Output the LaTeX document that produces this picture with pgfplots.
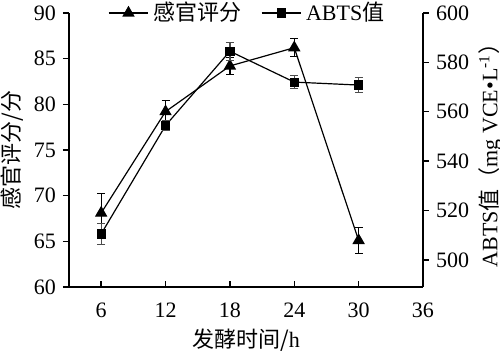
\documentclass[border=0pt]{standalone}
\usepackage{pgfplots}
\pgfplotsset{compat=1.18}
\usepackage{fontspec}
\setmainfont{Liberation Serif}
\newfontfamily\cjk{Noto Sans CJK SC}

\begin{document}
\begin{tikzpicture}
\pgfplotsset{
  every axis/.append style={
    scale only axis, width=177pt, height=137pt,
    xmin=3, xmax=36,
    font=\fontsize{11}{13}\selectfont,
    /pgf/number format/assume math mode=true,
    tick align=outside, major tick length=3pt,
    axis line style={line width=0.7pt, black},
    tick style={line width=0.7pt, black},
  }}
\begin{axis}[name=a1,
  axis x line*=bottom, axis y line*=left,
  ymin=60, ymax=90, ytick={60,65,...,90},
  xtick={6,12,...,36},
  xtick style={yshift=3pt},
  xticklabel style={yshift=-1.5pt},
  xlabel={{\cjk 发酵时间/}h},
  xlabel style={at={(axis description cs:0.5,-0.193)}, anchor=center},
  ylabel={{\cjk 感官评分/分}},
  ylabel style={at={(axis description cs:-0.161,0.5)}, anchor=center},
]
\addplot[black, line width=0.6pt, mark=triangle*, mark size=3pt,
  error bars/.cd, y dir=both, y explicit, error bar style={line width=0.6pt},
  error mark options={rotate=90, mark size=2pt, line width=0.6pt}]
  coordinates {
  (6,68.1) +- (0,2.1)
  (12,79.2) +- (0,1.2)
  (18,84.2) +- (0,0.9)
  (24,86.2) +- (0,1.0)
  (30,65.1) +- (0,1.4)
  };
\end{axis}
\begin{axis}[name=a2,
  axis x line=none, axis y line*=right,
  ymin=489, ymax=600, ytick={500,520,...,600},
  xtick=\empty,
  ylabel={ABTS{\cjk 值（}mg VCE•L\textsuperscript{-1}{\cjk ）}},
  ylabel style={at={(axis description cs:1.19,0.5)}, anchor=center},
  legend columns=2,
  legend image code/.code={\draw[mark repeat=2,mark phase=2] plot coordinates {(0cm,0cm)(0.35cm,0cm)(0.7cm,0cm)};},
  legend style={at={(axis description cs:0.506,1.0)}, anchor=center,
    draw=none, fill=none, font=\fontsize{11}{13}\selectfont,
    /tikz/every even column/.append style={column sep=8pt}},
]
\addlegendimage{black, line width=0.6pt, mark=triangle*, mark size=3pt}
\addlegendentry{{\cjk 感官评分}}
\addplot[black, line width=0.6pt, mark=square*, mark size=2pt,
  error bars/.cd, y dir=both, y explicit, error bar style={line width=0.6pt, black!70},
  error mark options={rotate=90, mark size=2pt, line width=0.6pt, black!70}]
  coordinates {
  (6,510.5) +- (0,4.3)
  (12,554.4) +- (0,2.0)
  (18,584.5) +- (0,3.6)
  (24,572.0) +- (0,2.7)
  (30,570.8) +- (0,3.0)
  };
\addlegendentry{ABTS{\cjk 值}}
\end{axis}
\pgfresetboundingbox
\path ([xshift=-34.5pt,yshift=-34.5pt]a1.south west) rectangle ([xshift=38.5pt,yshift=6.5pt]a1.north east);
\end{tikzpicture}
\end{document}
